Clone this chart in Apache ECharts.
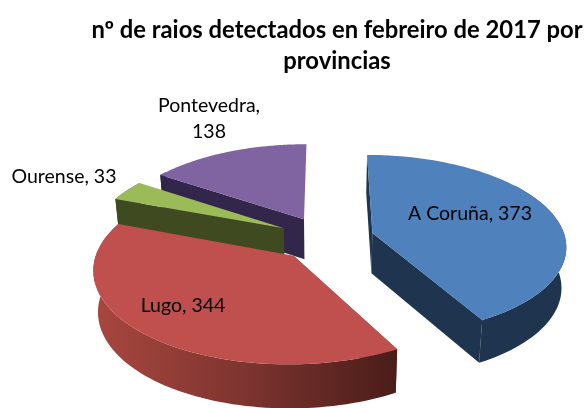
<!DOCTYPE html>
<html lang="es">
<head>
  <meta charset="UTF-8" />
  <title>Raios por provincias</title>
  <script src="https://cdn.jsdelivr.net/npm/echarts@6"></script>
  <style>
    html, body { margin: 0; padding: 0; background: #fff; }
    #chart { width: 588px; height: 408px; }
  </style>
</head>
<body>
  <div id="chart"></div>
  <script>
    const provinces = ['A Coruña', 'Lugo', 'Ourense', 'Pontevedra'];
    const counts = [373, 344, 33, 138];
    const chartTitle = 'nº de raios detectados en febreiro de 2017 por\nprovincias';

    const topColors = ['#4f81bd', '#c0504d', '#9bbb59', '#8064a2'];
    const sideColors = ['#1f344e', '#7a322e', '#404a20', '#32274a'];
    const labelLines = [
      ['A Coruña, 373'], ['Lugo, 344'], ['Ourense, 33'], ['Pontevedra,', '138']
    ];
    const labelCentres = [[470, 214], [183, 306], [64, 177], [209, 119]];

    // projection of the tilted disc, fitted to the picture
    const view = { cx: 326, cy: 238.5, sx: 193, sy: 89.5, persp: 0.13, explode: 0.25, depth: 40.5, floor: 0.98 };
    const total = counts.reduce((a, b) => a + b, 0);

    function project(u, v, drop) {
      const s = 1 / (1 + view.persp * v);
      const k = drop ? view.floor : 1;
      return [
        view.cx + view.sx * u * s * k,
        view.cy - view.sy * v * s + (drop ? view.depth * Math.sqrt(s) : 0)
      ];
    }

    function sliceAngles(index) {
      const before = counts.slice(0, index).reduce((a, b) => a + b, 0);
      return [before / total * Math.PI * 2, (before + counts[index]) / total * Math.PI * 2];
    }

    function renderSlice(params, api) {
      const i = params.dataIndex;
      const [a0, a1] = sliceAngles(i);
      const mid = (a0 + a1) / 2;
      const ou = view.explode * Math.sin(mid);
      const ov = view.explode * Math.cos(mid);
      const order = Math.round((1 - Math.cos(mid)) * 100);

      const rim = [];
      const front = [];
      const steps = 80;
      for (let n = 0; n <= steps; n++) {
        const a = a0 + (a1 - a0) * n / steps;
        const p = [ou + Math.sin(a), ov + Math.cos(a)];
        rim.push(p);
        // rim wall is only needed away from the far edge
        if (Math.cos(a) < 0.6) front.push(p);
      }
      const top = rim.map(p => project(p[0], p[1], false));
      const low = rim.map(p => project(p[0], p[1], true));
      const apexTop = project(ou, ov, false);
      const apexLow = project(ou, ov, true);

      let wallFill = sideColors[i];
      if (provinces[i] === 'Lugo') {
        wallFill = new echarts.graphic.LinearGradient(0, 0, 1, 0, [
          { offset: 0, color: '#a8473f' },
          { offset: 0.5, color: '#7e3430' },
          { offset: 1, color: '#4a1d19' }
        ]);
      }

      const poly = (points, fill, z2) => ({
        type: 'polygon',
        z2,
        shape: { points },
        style: { fill, stroke: null }
      });

      const parts = [
        poly([apexTop, top[0], low[0], apexLow], sideColors[i], order),
        poly([apexTop].concat(top), topColors[i], order + 2)
      ];
      if (front.length > 1) {
        const wallTop = front.map(p => project(p[0], p[1], false));
        const wallLow = front.map(p => project(p[0], p[1], true));
        parts.push(poly(wallTop.concat(wallLow.reverse()), wallFill, order + 1));
      }
      // the closing wall only shows on slices that end on the front half
      if (Math.cos(a1) < 0) {
        parts.push(poly([apexTop, top[steps], low[steps], apexLow], sideColors[i], order));
      }
      return { type: 'group', children: parts };
    }

    function renderLabel(params) {
      const i = params.dataIndex;
      return {
        type: 'text',
        z2: 500,
        style: {
          x: labelCentres[i][0],
          y: labelCentres[i][1],
          text: labelLines[i].join('\n'),
          fill: '#000',
          font: '19.5px Lato',
          lineHeight: 26,
          align: 'center',
          verticalAlign: 'middle'
        }
      };
    }

    const chart = echarts.init(document.getElementById('chart'), null, { renderer: 'canvas' });
    chart.setOption({
      animation: false,
      backgroundColor: '#fff',
      title: {
        text: chartTitle,
        left: 332,
        top: 10,
        textAlign: 'center',
        textStyle: { fontFamily: 'Lato', fontWeight: 'bold', fontSize: 23.8, lineHeight: 31, color: '#000' }
      },
      series: [
        { type: 'custom', coordinateSystem: 'none', renderItem: renderSlice, data: counts },
        { type: 'custom', coordinateSystem: 'none', renderItem: renderLabel, data: counts, z: 5 }
      ]
    });
  </script>
</body>
</html>
